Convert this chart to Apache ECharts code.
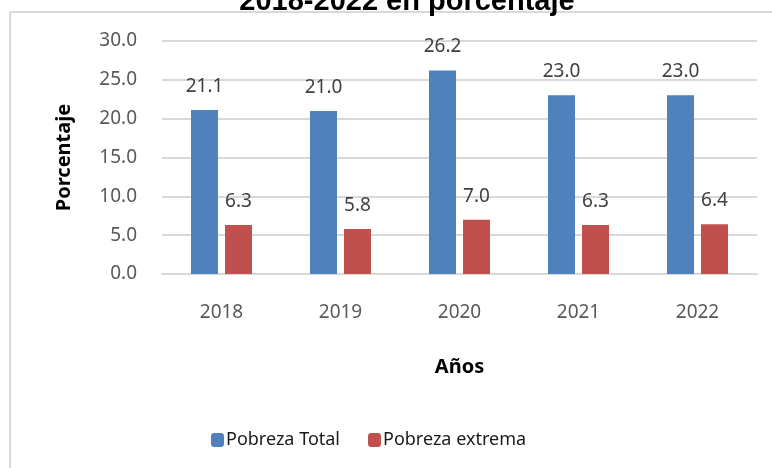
<!DOCTYPE html>
<html>
<head>
<meta charset="utf-8">
<script src="https://cdn.jsdelivr.net/npm/echarts@6/dist/echarts.min.js"></script>
<style>
  html, body { margin: 0; padding: 0; background: #fff; }
  #chart { width: 772px; height: 468px; }
</style>
</head>
<body>
<div id="chart"></div>
<script>
var years = ['2018', '2019', '2020', '2021', '2022'];
var pobrezaTotal = [21.1, 21.0, 26.2, 23.0, 23.0];
var pobrezaExtrema = [6.3, 5.8, 7.0, 6.3, 6.4];
var seriesNames = ['Pobreza Total', 'Pobreza extrema'];

var font = '"Noto Sans", "Open Sans", sans-serif';

var myChart = echarts.init(document.getElementById('chart'));
myChart.setOption({
	backgroundColor: '#fff',
	textStyle: { fontFamily: font },
	title: {
		text: '2018-2022 en porcentaje',
		left: 402,
		textAlign: 'center',
		top: -18,
		textStyle: {
			fontFamily: '"Liberation Sans", Arial, sans-serif',
			fontWeight: 'bold',
			fontSize: 29,
			color: '#000'
		}
	},
	graphic: [{
		type: 'line',
		shape: { x1: 10, y1: 12, x2: 772, y2: 12 },
		style: { stroke: '#d9d9d9', lineWidth: 2 },
		z: -1
	}, {
		type: 'line',
		shape: { x1: 10, y1: 12, x2: 10, y2: 468 },
		style: { stroke: '#d9d9d9', lineWidth: 2 },
		z: -1
	}],
	legend: {
		data: seriesNames,
		left: 206,
		top: 426,
		itemWidth: 13,
		itemHeight: 14,
		itemGap: 28,
		textStyle: { fontFamily: font, fontSize: 18, color: '#1a1a1a', padding: [0, 0, 0, -3] }
	},
	grid: {
		left: 162,
		right: 15,
		top: 41,
		bottom: 194
	},
	xAxis: [{
		type: 'category',
		data: years,
		name: 'Años',
		nameLocation: 'middle',
		nameGap: 83,
		nameTextStyle: { fontFamily: font, fontWeight: 'bold', fontSize: 20, color: '#000' },
		axisLine: { lineStyle: { color: '#d9d9d9', width: 2 } },
		axisTick: { show: false },
		axisLabel: { margin: 29, fontSize: 19, color: '#595959' }
	}],
	yAxis: [{
		type: 'value',
		min: 0,
		max: 30,
		interval: 5,
		name: 'Porcentaje',
		nameLocation: 'middle',
		nameGap: 88,
		nameTextStyle: { fontFamily: font, fontWeight: 'bold', fontSize: 20, color: '#000' },
		axisLine: { show: false },
		axisTick: { show: false },
		splitLine: { lineStyle: { color: '#d9d9d9', width: 2 } },
		axisLabel: {
			margin: 25,
			fontSize: 19,
			color: '#595959',
			formatter: function (v) { return v.toFixed(1); }
		}
	}],
	series: [{
		name: seriesNames[0],
		type: 'bar',
		data: pobrezaTotal,
		barWidth: 27,
		barGap: '26%',
		itemStyle: { color: '#4f81bd' },
		label: {
			show: true,
			position: 'top',
			distance: 14,
			fontSize: 19,
			color: '#404040',
			formatter: function (p) { return p.value.toFixed(1); }
		}
	}, {
		name: seriesNames[1],
		type: 'bar',
		data: pobrezaExtrema,
		barWidth: 27,
		barGap: '26%',
		itemStyle: { color: '#c0504d' },
		label: {
			show: true,
			position: 'top',
			distance: 14,
			fontSize: 19,
			color: '#404040',
			formatter: function (p) { return p.value.toFixed(1); }
		}
	}]
});
</script>
</body>
</html>
